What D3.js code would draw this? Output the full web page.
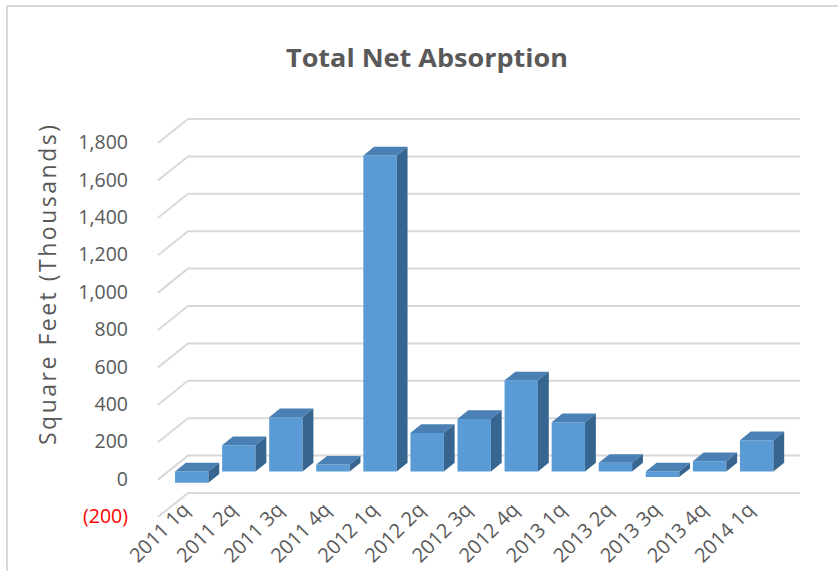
<!DOCTYPE html>
<html>
<head>
<meta charset="utf-8">
<script src="https://cdn.jsdelivr.net/npm/d3@7"></script>
<style>
  html, body { margin: 0; padding: 0; background: #fff; }
  svg { display: block; }
  text { font-family: "Open Sans", "DejaVu Sans", sans-serif; }
</style>
</head>
<body>
<svg id="chart" width="838" height="571"></svg>
<script>
const categories = ["2011 1q","2011 2q","2011 3q","2011 4q","2012 1q","2012 2q","2012 3q","2012 4q","2013 1q","2013 2q","2013 3q","2013 4q","2014 1q"];
const values = [-60, 140, 290, 37, 1690, 206, 281, 487, 263, 46, -30, 55, 167];
const tickValues = [-200, 0, 200, 400, 600, 800, 1000, 1200, 1400, 1600, 1800];
const chartTitle = "Total Net Absorption";
const yTitle = "Square Feet (Thousands)";

const svg = d3.select("#chart");
const W = 838, H = 571;

// chart border (top and left visible)
svg.append("line").attr("x1", 7).attr("y1", 6).attr("x2", W).attr("y2", 6)
  .attr("stroke", "#d9d9d9").attr("stroke-width", 2);
svg.append("line").attr("x1", 7).attr("y1", 6).attr("x2", 7).attr("y2", H)
  .attr("stroke", "#d9d9d9").attr("stroke-width", 2);

// 3D oblique projection: depth vector from back wall to front plane
const DX = -30, DY = 24;
const y = d3.scaleLinear().domain([-200, 1800]).range([493, 119]);
const x = d3.scaleBand().domain(categories).range([188, 800]).paddingInner(0.29).paddingOuter(0.145);

// gridlines on back wall + floor/side diagonals
const grid = svg.append("g");
tickValues.forEach(v => {
  const yb = y(v);
  grid.append("path")
    .attr("d", `M${188 + DX},${yb + DY}L188,${yb}L800,${yb}`)
    .attr("fill", "none").attr("stroke", "#d9d9d9").attr("stroke-width", 2);
});

// y tick labels (front plane)
const fmt = d3.format(",");
svg.append("g").selectAll("text").data(tickValues).join("text")
  .attr("x", 128).attr("y", d => y(d) + DY + 1)
  .attr("text-anchor", "end").attr("dominant-baseline", "middle")
  .attr("font-size", 19.5)
  .attr("fill", d => d < 0 ? "#ff0000" : "#595959")
  .text(d => d < 0 ? "(" + fmt(-d) + ")" : fmt(d));

// bars
const f0 = 0.66, f1 = 0.30; // depth fractions of front & back faces
const bw = x.bandwidth();
const bars = svg.append("g");
categories.forEach((c, i) => {
  const v = values[i];
  const hi = Math.max(0, v), lo = Math.min(0, v);
  const fx = x(c) + DX * f0, bx = x(c) + DX * f1;
  const fyTop = y(hi) + DY * f0, fyBot = y(lo) + DY * f0;
  const byTop = y(hi) + DY * f1, byBot = y(lo) + DY * f1;
  // front
  bars.append("path")
    .attr("d", `M${fx},${fyTop}L${fx + bw},${fyTop}L${fx + bw},${fyBot}L${fx},${fyBot}Z`)
    .attr("fill", "#5b9bd5");
  // top
  bars.append("path")
    .attr("d", `M${fx},${fyTop}L${bx},${byTop}L${bx + bw},${byTop}L${fx + bw},${fyTop}Z`)
    .attr("fill", "#4a80b3");
  // side
  bars.append("path")
    .attr("d", `M${fx + bw},${fyTop}L${bx + bw},${byTop}L${bx + bw},${byBot}L${fx + bw},${fyBot}Z`)
    .attr("fill", "#36658f");
});

// x labels
svg.append("g").selectAll("text").data(categories).join("text")
  .attr("transform", c => `translate(${x(c) + DX * f0 + bw / 2 - 1},${511}) rotate(-45)`)
  .attr("text-anchor", "end")
  .attr("font-size", 20)
  .attr("fill", "#595959")
  .text(c => c);

// title
svg.append("text")
  .attr("x", 427).attr("y", 67)
  .attr("text-anchor", "middle")
  .attr("font-size", 25).attr("font-weight", "bold")
  .attr("fill", "#595959")
  .attr("textLength", 282).attr("lengthAdjust", "spacingAndGlyphs")
  .text(chartTitle);

// y axis title
svg.append("text")
  .attr("transform", "translate(56,285) rotate(-90)")
  .attr("text-anchor", "middle")
  .attr("font-size", 23)
  .attr("fill", "#595959")
  .attr("textLength", 320).attr("lengthAdjust", "spacing")
  .text(yTitle);
</script>
</body>
</html>
